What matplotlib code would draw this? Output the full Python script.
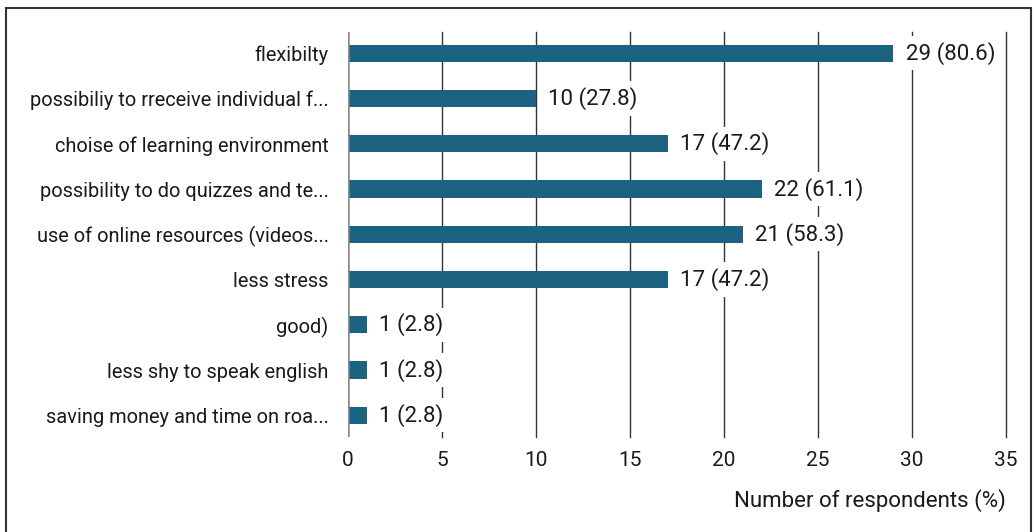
import matplotlib.pyplot as plt
from matplotlib.patches import Rectangle

plt.rcParams['font.family'] = ['Roboto', 'DejaVu Sans']

categories = ['flexibilty',
              'possibiliy to rreceive individual f...',
              'choise of learning environment',
              'possibility to do quizzes and te...',
              'use of online resources (videos...',
              'less stress',
              'good)',
              'less shy to speak english',
              'saving money and time on roa...']
counts = [29, 10, 17, 22, 21, 17, 1, 1, 1]
percents = [80.6, 27.8, 47.2, 61.1, 58.3, 47.2, 2.8, 2.8, 2.8]
xticks = [0, 5, 10, 15, 20, 25, 30, 35]

fig = plt.figure(figsize=(10.36, 5.32), dpi=100)
ax = fig.add_axes([348/1036, 1-437/532, 658/1036, 405/532])

y = list(range(len(categories)))
ax.barh(y, counts, height=0.38, color='#1b6380', zorder=3)

for yi, c, p in zip(y, counts, percents):
  ax.annotate(f'{c} ({p})', (c, yi), xytext=(9, 0), textcoords='offset points',
              va='center', ha='left', fontsize=16, color='#1a1a1a', zorder=4,
              bbox=dict(boxstyle='square,pad=0.25', fc='white', ec='none'))

ax.set_xlim(0, 35)
ax.set_ylim(8.48, -0.47)
ax.set_xticks(xticks)
ax.set_yticks(y)
ax.set_yticklabels(categories)
ax.tick_params(axis='y', length=0, pad=14, labelsize=14.4, labelcolor='#1a1a1a')
ax.tick_params(axis='x', length=0, pad=10, labelsize=15, labelcolor='#1a1a1a')

for x in xticks[1:]:
  ax.axvline(x, color='#333333', lw=1, zorder=1, clip_on=False)
ax.axvline(0, color='#888888', lw=1.8, zorder=4)

for s in ax.spines.values():
  s.set_visible(False)

ax.set_xlabel('Number of respondents (%)', loc='right', fontsize=16,
              color='#1a1a1a', labelpad=14)

fig.patches.append(Rectangle((6/1036, -0.05), 1025/1036, 1.05 - 8/532,
                             transform=fig.transFigure, fill=False,
                             ec='#333333', lw=1.5))

fig.savefig('out.png', dpi=100, facecolor='white')
